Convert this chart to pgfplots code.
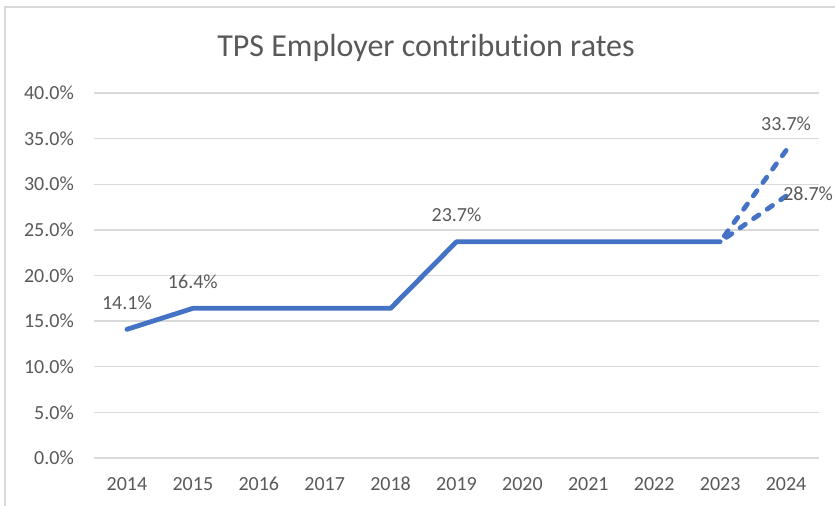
\documentclass[border=0pt]{standalone}
\usepackage{fontspec}
\setmainfont{Carlito}[Ligatures=NoCommon]
\usepackage{pgfplots}
\pgfplotsset{compat=1.18}
\definecolor{txt}{HTML}{595959}
\definecolor{grd}{HTML}{D9D9D9}
\definecolor{ser}{HTML}{4472C4}
\begin{document}
\begin{tikzpicture}[x=1bp,y=1bp]
\path[use as bounding box] (0,0) rectangle (835,506);
\draw[grd, line width=1.5bp] (5,-5) -- (5,499) -- (840,499);
\node[anchor=base, text=txt, font=\fontsize{32bp}{38bp}\selectfont, inner sep=0pt] at (426,449) {TPS Employer contribution rates};
\begin{axis}[at={(94bp,48bp)}, anchor=south west, width=725bp, height=365bp, scale only axis,
  xmin=-0.5, xmax=10.5, ymin=0, ymax=40,
  xtick={0,1,2,3,4,5,6,7,8,9,10},
  xticklabels={2014,2015,2016,2017,2018,2019,2020,2021,2022,2023,2024},
  ytick={0,5,10,15,20,25,30,35,40},
  axis line style={draw=none}, major tick length=0pt,
  ymajorgrids, grid style={grd, line width=1.3bp},
  tick label style={text=txt, font=\fontsize{20bp}{24bp}\selectfont, inner sep=0pt},
  yticklabel style={anchor=east, xshift=-20bp},
  xticklabel style={anchor=center, yshift=-26bp},
  /pgf/number format/assume math mode=true,
  yticklabel={\pgfmathprintnumber[fixed,fixed zerofill,precision=1]{\tick}\%},
  clip=false,
]
\addplot[ser, line width=4.8bp, line join=round, line cap=round] coordinates {(0,14.1)(1,16.4)(2,16.4)(3,16.4)(4,16.4)(5,23.7)(6,23.7)(7,23.7)(8,23.7)(9,23.7)};
\addplot[ser, line width=4.8bp, line cap=round, dash pattern=on 6.5bp off 10bp] coordinates {(10,33.7)(9,23.7)};
\addplot[ser, line width=4.8bp, line cap=round, dash pattern=on 6.5bp off 10bp] coordinates {(10,28.7)(9,23.7)};
\addplot[draw=none, point meta=y,
  nodes near coords={\pgfmathprintnumber[fixed,fixed zerofill,precision=1]{\pgfplotspointmeta}\%},
  every node near coord/.style={anchor=center, yshift=27bp, text=txt, font=\fontsize{20bp}{24bp}\selectfont, inner sep=0pt}]
  coordinates {(0,14.1)(1,16.4)(5,23.7)(10,33.7)};
\addplot[draw=none, point meta=y,
  nodes near coords={\pgfmathprintnumber[fixed,fixed zerofill,precision=1]{\pgfplotspointmeta}\%},
  every node near coord/.style={anchor=west, xshift=-3bp, yshift=2bp, text=txt, font=\fontsize{20bp}{24bp}\selectfont, inner sep=0pt}]
  coordinates {(10,28.7)};
\end{axis}
\end{tikzpicture}
\end{document}
